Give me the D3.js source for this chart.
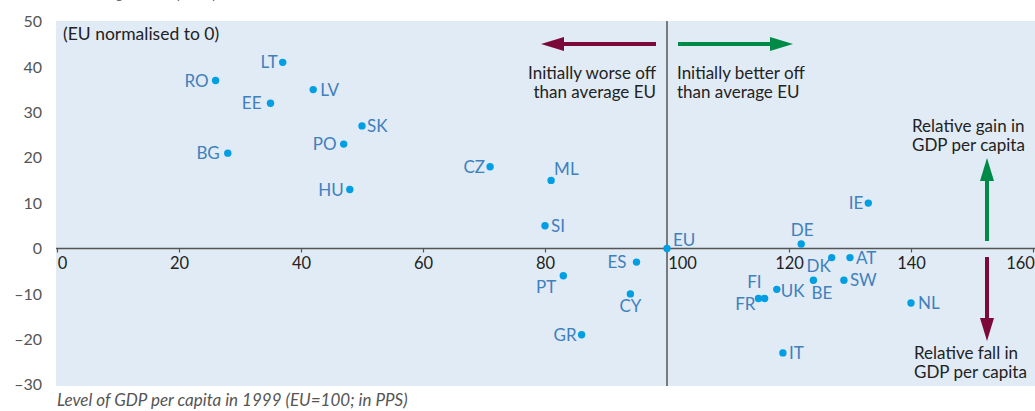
<!DOCTYPE html>
<html>
<head>
<meta charset="utf-8">
<script src="https://cdn.jsdelivr.net/npm/d3@7"></script>
<style>
  body { margin: 0; background: #fff; }
  svg { display: block; font-family: Lato, "Open Sans", sans-serif; }
</style>
</head>
<body>
<div id="chart"></div>
<script>
// countries, GDP per capita 1999 (EU=100) and change (EU normalised to 0)
var countries = ["RO","LT","LV","EE","BG","PO","HU","SK","CZ","ML","SI","ES","PT","CY","GR","EU","DE","IE","DK","AT","SW","BE","UK","FI","FR","NL","IT"];
var gdp1999  = [26, 37, 42, 35, 28, 47, 48, 50, 71, 81, 80, 95, 83, 94, 86, 100, 122, 133, 127, 130, 129, 124, 118, 116, 115, 140, 119];
var change   = [37, 41, 35, 32, 21, 23, 13, 27, 18, 15, 5, -3, -6, -10, -19, 0, 1, 10, -2, -2, -7, -7, -9, -11, -11, -12, -23];
var xTicks = [0, 20, 40, 60, 80, 100, 120, 140, 160];
var yTicks = [50, 40, 30, 20, 10, 0, -10, -20, -30];

// label placement around each dot: [dx, dy, anchor]
var labelPos = {
  RO: [-7, 0, "end"], LT: [-5, 0, "end"], LV: [7, 0, "start"], EE: [-9, 0, "end"],
  BG: [-8, 0, "end"], PO: [-7, 0, "end"], HU: [-6, 0, "end"], SK: [5, 0, "start"],
  CZ: [-5, 0, "end"], ML: [3, -12, "start"], SI: [6, 0, "start"], ES: [-10, 0, "end"],
  PT: [-7, 11, "end"], CY: [0, 12, "middle"], GR: [-5, 0, "end"], EU: [6, -9, "start"],
  DE: [1, -14, "middle"], IE: [-5, 0, "end"], DK: [-1, 8, "end"], AT: [6, 0, "start"],
  SW: [6, 0, "start"], BE: [-2, 13, "start"], UK: [4, 2, "start"], FI: [-3, -17, "end"],
  FR: [-3, 5, "end"], NL: [7, 0, "start"], IT: [6, 0, "start"]
};

var W = 1035, H = 411;
var svg = d3.select("#chart").append("svg")
    .attr("width", W)
    .attr("height", H);

var x = d3.scaleLinear().domain([0, 160]).range([57, 1033]);
var y = d3.scaleLinear().domain([-30, 50]).range([384.7, 21.5]);

var data = countries.map(function(c, i) {
  return {name: c, gdp: gdp1999[i], chg: change[i]};
});

// plot background
svg.append("rect")
   .attr("x", 56).attr("y", 21)
   .attr("width", W - 56).attr("height", 365)
   .attr("fill", "#e1ebf5");

// title above, cut by the top edge (only descenders visible)
svg.append("text")
   .attr("x", 86).attr("y", -1)
   .style("font-style", "italic")
   .style("font-size", "14px")
   .attr("fill", "#666")
   .text("Change in GDP per capita");

// y labels
svg.selectAll("text.ylab")
   .data(yTicks)
   .enter()
   .append("text")
   .attr("class", "ylab")
   .attr("x", 42)
   .attr("y", d => y(d))
   .attr("dy", "0.35em")
   .attr("text-anchor", "end")
   .style("font-size", "16px")
   .attr("fill", "#555")
   .text(d => d < 0 ? "\u2013" + Math.abs(d) : d);

// x axis on y=0
var xAxis = d3.axisBottom(x)
    .tickValues(xTicks)
    .tickSize(4)
    .tickFormat(d3.format("d"));

var gx = svg.append("g")
   .attr("transform", "translate(0," + y(0) + ")")
   .call(xAxis);
gx.select(".domain").remove();
gx.selectAll(".tick line").attr("stroke", "#555").attr("stroke-width", 1.2);
gx.selectAll(".tick text")
  .style("font-size", "16.5px")
  .style("font-family", "Lato, sans-serif")
  .attr("fill", "#222")
  .attr("y", 9)
  .attr("dx", d => d === 0 ? 5 : d === 100 ? 15 : d === 160 ? -13 : 0);

svg.append("line")
   .attr("x1", 56).attr("x2", W)
   .attr("y1", y(0)).attr("y2", y(0))
   .attr("stroke", "#555").attr("stroke-width", 1.5);

// vertical EU line
svg.append("line")
   .attr("x1", x(100)).attr("x2", x(100))
   .attr("y1", 21).attr("y2", 386)
   .attr("stroke", "#555").attr("stroke-width", 1.5);

svg.append("text")
   .attr("x", 63).attr("y", 40)
   .style("font-size", "17.5px")
   .attr("fill", "#222")
   .text("(EU normalised to 0)");

// arrows
var maroon = "#7b0a3b", green = "#008a47";
function arrow(x1, y1, x2, y2, color) {
  var ang = Math.atan2(y2 - y1, x2 - x1);
  var hl = 23, hw = 7;
  var bx = x2 - hl * Math.cos(ang), by = y2 - hl * Math.sin(ang);
  svg.append("line")
     .attr("x1", x1).attr("y1", y1)
     .attr("x2", bx).attr("y2", by)
     .attr("stroke", color).attr("stroke-width", 4);
  var px = -Math.sin(ang) * hw, py = Math.cos(ang) * hw;
  svg.append("path")
     .attr("d", "M" + x2 + "," + y2 + "L" + (bx + px) + "," + (by + py) + "L" + (bx - px) + "," + (by - py) + "Z")
     .attr("fill", color);
}
arrow(656, 44, 541, 44, maroon);
arrow(678, 44, 793, 44, green);
arrow(987, 241, 987, 158, green);
arrow(987, 257, 987, 341, maroon);

function note(xp, yp, anchor, lines) {
  var t = svg.append("text")
     .attr("x", xp).attr("y", yp)
     .attr("text-anchor", anchor)
     .style("font-size", "17px")
     .attr("fill", "#222");
  lines.forEach(function(l, i) {
    t.append("tspan").attr("x", xp).attr("dy", i ? 19 : 0).text(l);
  });
}
note(656, 79, "end", ["Initially worse off", "than average EU"]);
note(677, 79, "start", ["Initially better off", "than average EU"]);
note(912, 132, "start", ["Relative gain in", "GDP per capita"]);
note(914, 359, "start", ["Relative fall in", "GDP per capita"]);

// points
svg.selectAll("circle")
   .data(data)
   .enter()
   .append("circle")
   .attr("cx", d => x(d.gdp))
   .attr("cy", d => y(d.chg))
   .attr("r", 3.7)
   .attr("fill", "#009fe3");

svg.selectAll("text.lab")
   .data(data)
   .enter()
   .append("text")
   .attr("class", "lab")
   .attr("x", d => x(d.gdp) + labelPos[d.name][0])
   .attr("y", d => y(d.chg) + labelPos[d.name][1])
   .attr("dy", "0.36em")
   .attr("text-anchor", d => labelPos[d.name][2])
   .style("font-size", "17px")
   .attr("fill", "#3f80bd")
   .text(d => d.name);

// x axis title
svg.append("text")
   .attr("x", 57).attr("y", 406)
   .style("font-style", "italic")
   .style("font-size", "17px")
   .attr("fill", "#555")
   .text("Level of GDP per capita in 1999 (EU=100; in PPS)");
</script>
</body>
</html>
